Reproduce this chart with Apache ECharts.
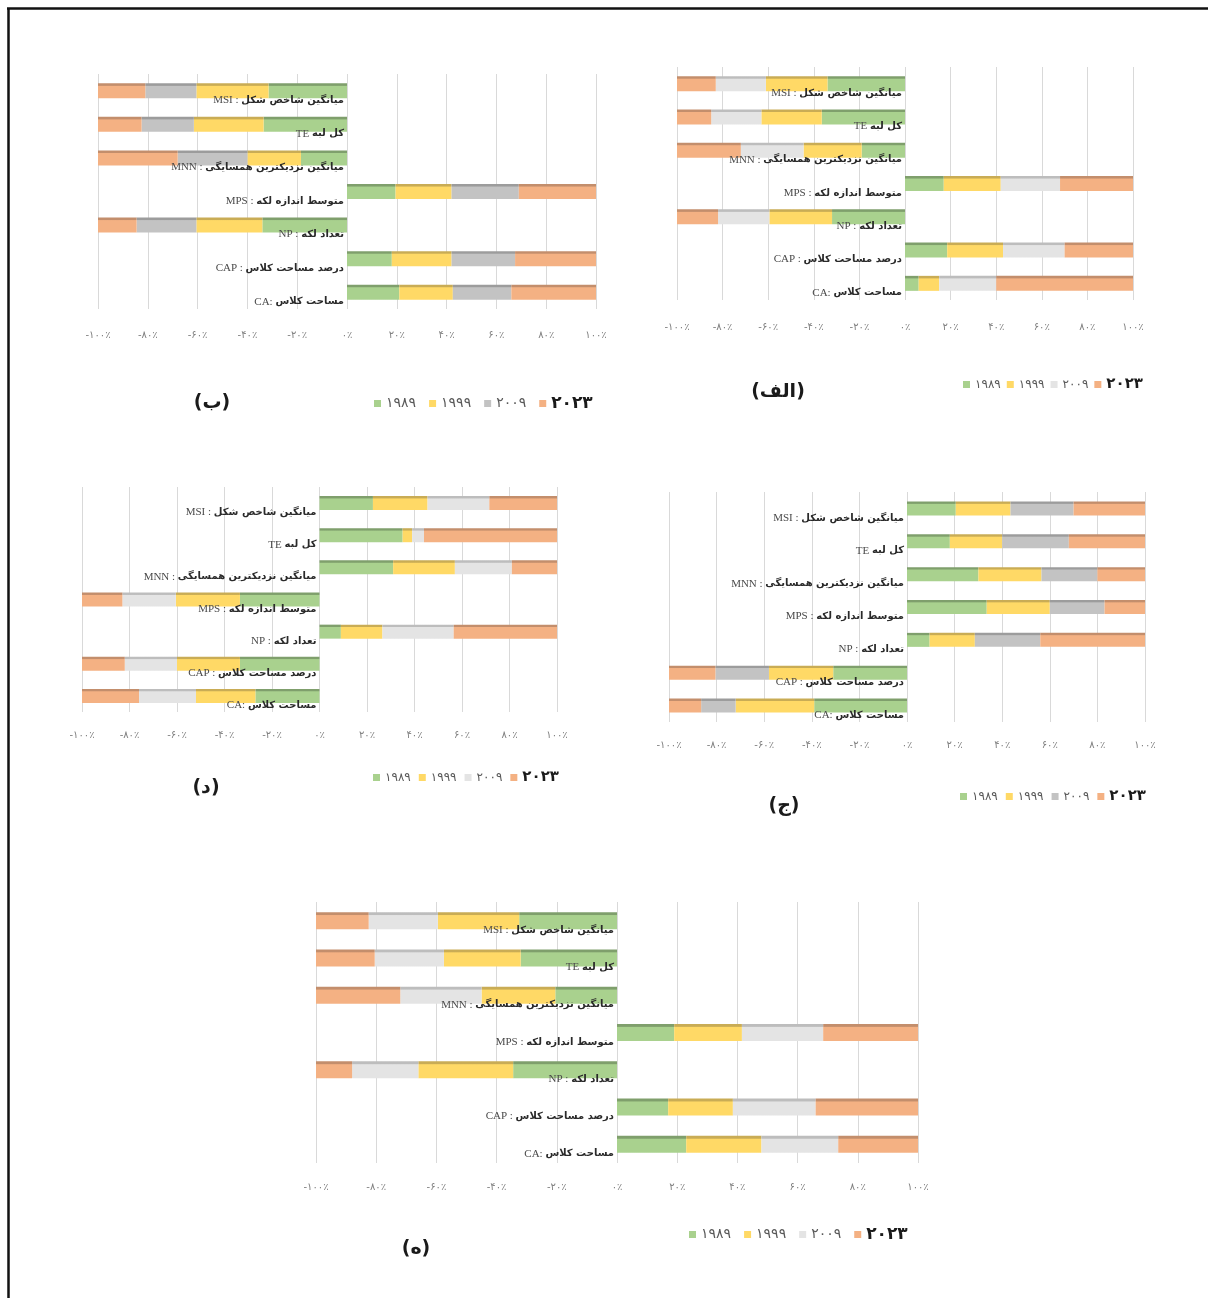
<!DOCTYPE html>
<html><head><meta charset="utf-8">
<script src="https://cdn.jsdelivr.net/npm/echarts@6/dist/echarts.min.js"></script>
<style>html,body{margin:0;padding:0;background:#fff}#c{width:1208px;height:1298px}</style>
</head><body><div id="c"></div>
<script>
// ---- categories / labels ----
const categories = ['MSI', 'TE', 'MNN', 'MPS', 'NP', 'CAP', 'CA'];
const categoryNames = ['میانگین شاخص شکل', 'کل لبه', 'میانگین نزدیکترین همسایگی', 'متوسط اندازه لکه', 'تعداد لکه', 'درصد مساحت کلاس', 'مساحت کلاس'];
const categorySep = [' : ', ' ', ' : ', ' : ', ' : ', ' : ', ': '];
const years = ['۱۹۸۹', '۱۹۹۹', '۲۰۰۹', '۲۰۲۳'];
const tickLabels = ['-۱۰۰٪', '-۸۰٪', '-۶۰٪', '-۴۰٪', '-۲۰٪', '۰٪', '۲۰٪', '۴۰٪', '۶۰٪', '۸۰٪', '۱۰۰٪'];
const panelTitles = ['(الف)', '(ب)', '(د)', '(ج)', '(ه)'];

// ---- values (%), order: MSI, TE, MNN, MPS, NP, CAP, CA ; negative = bar drawn leftwards ----
const alef1989 = [-34, -36.5, -19, 17, -32, 18.5, 6];
const alef1999 = [-27, -26.5, -25.5, 25, -27.5, 24.5, 9];
const alef2009 = [-22, -22, -27.5, 26, -22.5, 27, 25];
const alef2023 = [-17, -15, -28, 32, -18, 30, 60];

const be1989 = [-31.5, -33.5, -18.5, 19.5, -34, 18, 21];
const be1999 = [-29, -28, -21.5, 22.5, -26.5, 24, 21.5];
const be2009 = [-20.5, -21, -28, 27, -24, 25.5, 23.5];
const be2023 = [-19, -17.5, -32, 31, -15.5, 32.5, 34];

const dal1989 = [22.5, 35, 31, -33.5, 9, -33.5, -27];
const dal1999 = [23, 4, 26, -27, 17.5, -26.5, -25];
const dal2009 = [26, 5, 24, -22.5, 30, -22, -24];
const dal2023 = [28.5, 56, 19, -17, 43.5, -18, -24];

const jim1989 = [20.5, 18, 30, 33.5, 9.5, -31, -39];
const jim1999 = [23, 22, 26.5, 26.5, 19, -27, -33];
const jim2009 = [26.5, 28, 23.5, 23, 27.5, -22.5, -14.5];
const jim2023 = [30, 32, 20, 17, 44, -19.5, -13.5];

const he1989 = [-32.5, -32, -20.5, 19, -34.5, 17, 23];
const he1999 = [-27, -25.5, -24.5, 22.5, -31.5, 21.5, 25];
const he2009 = [-23, -23, -27, 27, -22, 27.5, 25.5];
const he2023 = [-17.5, -19.5, -28, 31.5, -12, 34, 26.5];

const panelData = [
  [alef1989, alef1999, alef2009, alef2023],
  [be1989, be1999, be2009, be2023],
  [dal1989, dal1999, dal2009, dal2023],
  [jim1989, jim1999, jim2009, jim2023],
  [he1989, he1999, he2009, he2023]
];

// ---- layout / style (not data) ----
const layouts = [
  { grid: { left: 677, top: 67, width: 456, height: 233 }, bar: 15, tickMargin: 22, legend: { left: 958, top: 372 }, legendFont: 12, gap: 6, title: [778, 392], grey: 'light' },
  { grid: { left: 98, top: 74, width: 498, height: 235 }, bar: 15, tickMargin: 21, legend: { left: 369, top: 390 }, legendFont: 14, gap: 13, title: [212, 403], grey: 'dark' },
  { grid: { left: 82, top: 487, width: 475, height: 225 }, bar: 14, tickMargin: 18, legend: { left: 368, top: 765 }, legendFont: 12, gap: 8, title: [206, 788], grey: 'light' },
  { grid: { left: 669, top: 492, width: 476, height: 230 }, bar: 14, tickMargin: 18, legend: { left: 955, top: 784 }, legendFont: 12, gap: 8, title: [784, 806], grey: 'dark' },
  { grid: { left: 316, top: 902, width: 602, height: 261 }, bar: 17, tickMargin: 19, legend: { left: 684, top: 1221 }, legendFont: 14, gap: 13, title: [416, 1249], grey: 'light' }
];

const baseColors = {
  light: ['#a9d18e', '#ffd966', '#e4e4e4', '#f4b183'],
  dark: ['#a9d18e', '#ffd966', '#c3c3c3', '#f4b183']
};
const edgeColors = {
  light: ['#7f9f6c', '#c9ac55', '#bdbdbd', '#c38e6c'],
  dark: ['#7f9f6c', '#c9ac55', '#9c9c9c', '#c38e6c']
};

function barFill(base, edge) {
  return new echarts.graphic.LinearGradient(0, 0, 0, 1, [
    { offset: 0, color: edge }, { offset: 0.14, color: edge },
    { offset: 0.2, color: base }, { offset: 1, color: base }
  ]);
}

const grids = [], xAxes = [], yAxes = [], series = [], legends = [], graphics = [];

layouts.forEach((L, p) => {
  grids.push(Object.assign({ containLabel: false }, L.grid));
  xAxes.push({
    type: 'value', gridIndex: p, min: -100, max: 100, interval: 20,
    axisLine: { show: false }, axisTick: { show: false },
    splitLine: { show: true, lineStyle: { color: '#d9d9d9', width: 1 } },
    axisLabel: {
      margin: L.tickMargin, fontSize: 10, color: '#808080', fontFamily: 'DejaVu Sans',
      formatter: v => tickLabels[Math.round((v + 100) / 20)]
    }
  });
  yAxes.push({
    type: 'category', gridIndex: p, data: categories, inverse: true, z: 10,
    position: 'left', offset: -L.grid.width / 2,
    axisLine: { show: false, onZero: false },
    axisTick: { show: false },
    axisLabel: {
      margin: 3, padding: [19, 0, 0, 0],
      formatter: (v) => {
        const i = categories.indexOf(v);
        return '{c|' + v + categorySep[i] + '}{p|' + categoryNames[i] + '}';
      },
      rich: {
        c: { fontFamily: 'Liberation Serif', fontSize: 11, color: '#4a4a4a' },
        p: { fontFamily: 'DejaVu Sans', fontWeight: 'bold', fontSize: 10, color: '#2a2a2a' }
      }
    }
  });
  const cols = baseColors[L.grey], edges = edgeColors[L.grey];
  panelData[p].forEach((arr, k) => {
    series.push({
      type: 'bar', name: years[k], xAxisIndex: p, yAxisIndex: p, stack: 'p' + p,
      barWidth: L.bar, data: arr, silent: true,
      itemStyle: { color: barFill(cols[k], edges[k]) }
    });
  });
  legends.push({
    left: L.legend.left, top: L.legend.top, orient: 'horizontal',
    icon: 'rect', itemWidth: 7, itemHeight: 7, itemGap: L.gap, selectedMode: false,
    data: years.map((y, k) => ({ name: y, itemStyle: { color: cols[k] } })),
    formatter: n => n === years[3] ? '{b|' + n + '}' : n,
    textStyle: {
      fontFamily: 'DejaVu Sans', fontSize: L.legendFont, color: '#595959',
      rich: { b: { fontFamily: 'DejaVu Sans', fontWeight: 'bold', fontSize: L.legendFont + 3, color: '#1a1a1a' } }
    }
  });
  graphics.push({
    type: 'text', x: L.title[0], y: L.title[1], z: 20,
    style: { text: panelTitles[p], font: 'bold 19px "DejaVu Sans"', fill: '#1a1a1a', align: 'center', verticalAlign: 'middle' }
  });
});

// outer frame (left and top edges)
graphics.push({ type: 'line', shape: { x1: 8.5, y1: 8.5, x2: 8.5, y2: 1298 }, style: { stroke: '#111', lineWidth: 2.5 } });
graphics.push({ type: 'line', shape: { x1: 7, y1: 8.5, x2: 1208, y2: 8.5 }, style: { stroke: '#111', lineWidth: 2.5 } });

const chart = echarts.init(document.getElementById('c'), null, { renderer: 'canvas' });
chart.setOption({
  animation: false,
  backgroundColor: '#ffffff',
  grid: grids, xAxis: xAxes, yAxis: yAxes, series: series, legend: legends, graphic: graphics
});
</script></body></html>
